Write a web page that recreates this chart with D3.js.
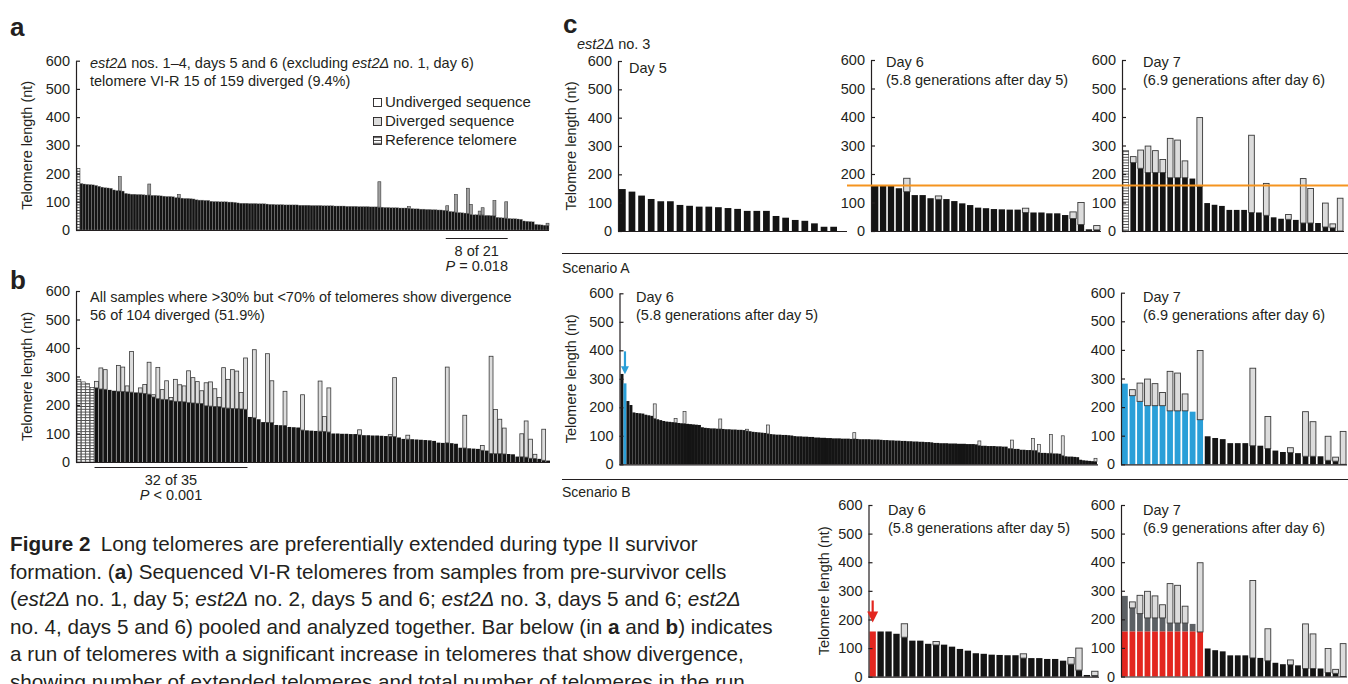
<!DOCTYPE html>
<html>
<head>
<meta charset="utf-8">
<script src="https://cdn.jsdelivr.net/npm/d3@7/dist/d3.min.js"></script>
<style>
  body { margin: 0; background: #fff; }
  svg { display: block; font-family: "Liberation Sans", Arial, Helvetica, sans-serif; }
</style>
</head>
<body>
<svg id="fig" width="1348" height="684"></svg>
<script>
// ---------- data ----------
const yTicks = [0, 100, 200, 300, 400, 500, 600];

// panel a: first bar is the reference telomere, then 159 telomeres (undiverged length, nt)
const aRef = [218];
const aLen = [165, 163, 162, 161, 160, 158, 155, 152, 150, 149, 148, 142, 140, 139, 138,
  130, 128, 127, 127, 126, 126, 125, 124, 124, 123, 123, 122, 121, 120, 119, 119, 118,
  115, 114, 113, 112, 112, 111, 110, 107, 106, 106, 105, 105, 102, 101, 101, 100, 100, 100, 99, 99, 98,
  96, 95, 95, 95, 94, 94, 94, 93, 93, 93, 92, 91, 91, 90, 90, 90, 89, 89, 89,
  89, 89, 88, 88, 88, 88, 87, 87, 87, 87, 86, 86, 86, 86, 85, 85, 85, 85, 84, 84, 84, 84,
  83, 83, 83, 83, 82, 82, 82, 81, 81, 80, 80, 79, 79, 79, 78, 78, 78, 77,
  76, 75, 75, 74, 74, 73, 73, 72, 72, 71, 71, 70, 68, 66, 65, 63, 62, 61, 60, 59,
  55, 54, 54, 53, 53, 52, 52, 51, 50, 45, 44, 43, 42, 41, 40, 40, 39, 38,
  32, 31, 30, 29, 20, 19, 18, 17, 16];
// [bar index, total length] of telomeres with a diverged distal part
const aDiv = [[14, 189], [24, 163], [34, 126], [102, 171], [112, 83], [125, 86], [128, 126],
  [132, 148], [133, 91], [136, 67], [137, 79], [141, 104], [145, 100], [159, 24]];
const aRun = [125, 145];

// panel b: 4 reference telomeres, then 104 telomeres
const bRef = [289, 281, 275, 262];
const bLen = [260, 256, 255, 253, 250, 248, 247, 246, 245, 244, 242, 240, 238,
  228, 222, 220, 219, 216, 213, 212, 211, 208, 207, 206, 205, 197, 196, 195, 194,
  190, 189, 188, 187, 186, 185, 158, 155, 150, 140, 139, 138, 130, 129, 128, 123, 122, 121,
  112, 111, 110, 109, 108, 107, 105, 100, 100, 99, 99, 98, 98,
  95, 94, 94, 93, 93, 92, 91, 90, 89, 86, 81, 80, 80, 79, 78, 77, 76, 74,
  68, 67, 67, 66, 64, 50, 49, 48, 47, 46, 41, 40, 30, 29, 29, 28, 28, 27,
  19, 18, 17, 13, 12, 11, 6, 5];
const bDiv = [[4, 283], [5, 330], [6, 324], [9, 339], [10, 333], [11, 267], [12, 388],
  [14, 260], [15, 272], [16, 350], [17, 236], [18, 332], [19, 254], [20, 285], [21, 226],
  [22, 290], [23, 271], [24, 267], [25, 320], [26, 296], [27, 282], [28, 250], [29, 278],
  [30, 281], [31, 257], [32, 226], [33, 331], [34, 290], [35, 324], [36, 319], [37, 244],
  [38, 365], [40, 394], [43, 380], [44, 285], [47, 248], [51, 236], [55, 284], [56, 160],
  [57, 260], [64, 113], [71, 96], [72, 296], [75, 94], [84, 333], [88, 164], [92, 58],
  [94, 371], [95, 184], [96, 150], [97, 119], [101, 99], [102, 144], [103, 80], [104, 27], [106, 115]];
const bRun = [4, 38];

// panel c: est2Δ no. 3
const day5Len = [148, 139, 125, 113, 105, 105, 92, 89, 86, 86, 84, 81, 78, 71, 71, 71, 53, 47, 39, 36, 27, 15, 15];
const day6Len = [158, 158, 158, 150, 138, 126, 126, 115, 111, 112, 105, 97, 91, 82, 80, 77, 76, 75, 75,
  65, 65, 65, 62, 62, 56, 44, 23, 6, 4];
const day6Div = [[4, 185], [8, 123], [19, 80], [25, 67], [26, 100], [28, 19]];
const day7Ref = [282];
const day7Len = [240, 220, 205, 205, 205, 187, 187, 187, 184, 156, 98, 92, 88, 74, 74, 74, 65, 65,
  55, 48, 43, 41, 39, 28, 28, 28, 14, 11, 0];
const day7Div = [[1, 261], [2, 284], [3, 298], [4, 282], [5, 251], [6, 325], [7, 319], [8, 246],
  [10, 398], [17, 336], [19, 167], [22, 58], [24, 184], [25, 149], [27, 98], [28, 25], [29, 115]];
const day6Cut = 160;
const day7Traced = [0, 1, 2, 3, 4, 5, 6, 7, 8, 9, 10];

// scenario A, day 6: whole population
const sA6Len = [317, 284, 222, 208, 182, 180, 179, 178, 174, 172, 170, 160, 158,
  155, 152, 150, 149, 148, 146, 145, 144, 143, 142, 141, 140, 139, 138,
  130, 128, 127, 126, 126, 125, 124, 124, 123, 123, 122, 122, 121, 121, 120,
  117, 116, 114, 113, 112, 111, 110, 107, 106, 105, 104, 104, 103, 103, 102, 101,
  99, 98, 98, 97, 97, 96, 96, 94, 94, 93, 93, 92, 92, 91, 91, 91, 90, 90, 90, 89, 89, 89, 88,
  88, 88, 88, 87, 87, 87, 86, 85, 85, 84, 84, 83, 83, 82, 82, 81, 81, 80, 80, 79, 79, 78, 78, 77,
  75, 75, 74, 74, 74, 73, 73, 73, 72, 72, 72, 71, 71, 71, 70,
  66, 65, 65, 64, 64, 64, 63, 63, 62, 62, 56, 55, 54, 54, 51, 51, 50, 50, 49, 49,
  41, 40, 40, 39, 39, 38, 38, 37, 30, 28, 27, 27, 26, 25, 16, 14, 13, 12, 11, 10];
const sA6Div = [[11, 212], [18, 161], [21, 185], [33, 159], [42, 123], [49, 138], [78, 111],
  [120, 82], [131, 85], [138, 91], [140, 70], [144, 105], [148, 100], [159, 21]];
const sA6Traced = [1];

const caption = [
  [['Figure 2', 'b'], ['\u2002Long telomeres are preferentially extended during type II survivor']],
  [['formation. ('], ['a', 'b'], [') Sequenced VI-R telomeres from samples from pre-survivor cells']],
  [['('], ['est2\u0394', 'i'], [' no. 1, day 5; '], ['est2\u0394', 'i'], [' no. 2, days 5 and 6; '],
    ['est2\u0394', 'i'], [' no. 3, days 5 and 6; '], ['est2\u0394', 'i']],
  [['no. 4, days 5 and 6) pooled and analyzed together. Bar below (in '], ['a', 'b'], [' and '],
    ['b', 'b'], [') indicates']],
  [['a run of telomeres with a significant increase in telomeres that show divergence,']],
  [['showing number of extended telomeres and total number of telomeres in the run']]
];

// ---------- drawing ----------
const ink = '#231f20';
const pale = '#dcdcdc';
const blue = '#2a9fd8';
const red = '#e3261f';
const slate = '#5c6064';
const orange = '#f5941f';

const svg = d3.select('#fig');
const defs = svg.append('defs');
const hatch = defs.append('pattern')
  .attr('id', 'hatch').attr('patternUnits', 'userSpaceOnUse')
  .attr('width', 8).attr('height', 2.8);
hatch.append('rect').attr('width', 8).attr('height', 2.8).attr('fill', '#fff');
hatch.append('rect').attr('width', 8).attr('height', 0.9).attr('fill', '#444');

function rows(refs, lens, divs) {
  const r = refs.map(v => ({ len: v, ref: true })).concat(lens.map(v => ({ len: v })));
  divs.forEach(([i, t]) => { r[i].top = t; });
  return r;
}

function txt(x, y, parts, size, anchor) {
  const t = svg.append('text').attr('x', x).attr('y', y)
    .attr('font-size', size).attr('fill', ink).attr('text-anchor', anchor || 'start');
  parts.forEach(([s, st]) => {
    t.append('tspan').text(s)
      .attr('font-weight', st === 'b' ? 'bold' : null)
      .attr('font-style', st === 'i' ? 'italic' : null);
  });
  return t;
}

function panel(c) {
  const y = d3.scaleLinear().domain([0, 600]).range([c.yBot, c.yTop]);
  const x = d3.scaleBand().domain(d3.range(c.data.length))
    .range([c.x0 + 1, c.barEnd]).paddingInner(c.pad).paddingOuter(0);

  const segs = [];
  c.data.forEach((d, i) => {
    let fill = d.ref ? 'url(#hatch)' : '#141414';
    if (c.mark && c.mark.idx.includes(i)) fill = c.mark.color;
    if (c.split && c.split.idx.includes(i)) {
      const lo = Math.min(d.len, c.split.level);
      segs.push({ i, lo: 0, hi: lo, fill: red });
      if (d.len > lo) segs.push({ i, lo, hi: d.len, fill: slate });
    } else if (d.len > 0) {
      const refLine = d.ref && fill === 'url(#hatch)';
      segs.push({ i, lo: 0, hi: d.len, fill,
        stroke: refLine ? '#333' : c.sep, sw: refLine ? 0.6 : c.sepW });
    }
    if (d.top) segs.push({ i, lo: d.len, hi: d.top, fill: c.topFill || pale, stroke: '#383838', sw: c.topW });
  });

  svg.append('g').selectAll('rect').data(segs).join('rect')
    .attr('x', d => x(d.i)).attr('width', x.bandwidth())
    .attr('y', d => y(d.hi)).attr('height', d => y(d.lo) - y(d.hi))
    .attr('fill', d => d.fill)
    .attr('stroke', d => d.stroke || 'none')
    .attr('stroke-width', d => d.sw || 0);

  const ax = svg.append('g')
    .attr('transform', `translate(${c.x0},0)`)
    .call(d3.axisLeft(y).tickValues(yTicks).tickSizeInner(-4).tickSizeOuter(0).tickPadding(6));
  ax.attr('font-family', null).attr('font-size', 14.5);
  ax.selectAll('text').attr('fill', ink);
  ax.selectAll('line,path').attr('stroke', ink).attr('stroke-width', 1.2);

  svg.append('line')
    .attr('x1', c.x0).attr('x2', c.xEnd).attr('y1', c.yBot + 0.5).attr('y2', c.yBot + 0.5)
    .attr('stroke', ink).attr('stroke-width', 1.2);

  if (c.title) {
    svg.append('text').attr('transform', `translate(${c.titleX},${(c.yTop + c.yBot) / 2}) rotate(-90)`)
      .attr('text-anchor', 'middle').attr('font-size', 14.5).attr('fill', ink)
      .text('Telomere length (nt)');
  }
  return { x, y };
}

function runBar(p, run, yLine, label, rel, pval) {
  const x1 = p.x(run[0]), x2 = p.x(run[1]) + p.x.bandwidth();
  svg.append('line').attr('x1', x1).attr('x2', x2).attr('y1', yLine).attr('y2', yLine)
    .attr('stroke', ink).attr('stroke-width', 1.2);
  txt((x1 + x2) / 2, yLine + 17, [[label]], 14.5, 'middle');
  txt((x1 + x2) / 2, yLine + 32, [['P', 'i'], [` ${rel} ${pval}`]], 14.5, 'middle');
}

function arrow(xc, yTip, len, head, color) {
  svg.append('line').attr('x1', xc).attr('x2', xc).attr('y1', yTip - len).attr('y2', yTip - head * 0.8)
    .attr('stroke', color).attr('stroke-width', 2.2);
  svg.append('path')
    .attr('d', `M${xc - head / 2},${yTip - head} L${xc + head / 2},${yTip - head} L${xc},${yTip} Z`)
    .attr('fill', color);
}

const dayLabels = ['Day 6', '(5.8 generations after day 5)', 'Day 7', '(6.9 generations after day 6)'];

// ----- a -----
const pa = panel({ x0: 76, yTop: 60.7, yBot: 230, xEnd: 549, barEnd: 549, pad: 0,
  data: rows(aRef, aLen, aDiv), sep: '#8c8c8c', sepW: 0.35, topW: 0.6, topFill: '#a0a0a0',
  title: true, titleX: 32 });
txt(10, 36, [['a', 'b']], 26);
txt(90, 68, [['est2\u0394', 'i'], [' nos. 1\u20134, days 5 and 6 (excluding '], ['est2\u0394', 'i'], [' no. 1, day 6)']], 14.5);
txt(90, 86, [['telomere VI-R 15 of 159 diverged (9.4%)']], 14.5);
const legend = [['Undiverged sequence', '#fff'], ['Diverged sequence', pale], ['Reference telomere', 'url(#hatch)']];
legend.forEach(([name, fill], i) => {
  svg.append('rect').attr('x', 373.5).attr('y', 98.5 + i * 19).attr('width', 8).attr('height', 8)
    .attr('fill', fill).attr('stroke', ink).attr('stroke-width', 0.9);
  txt(385, 107 + i * 19, [[name]], 15);
});
runBar(pa, aRun, 238.5, '8 of 21', '=', '0.018');

// ----- b -----
const pb = panel({ x0: 76, yTop: 291, yBot: 462, xEnd: 550, barEnd: 550, pad: 0.12,
  data: rows(bRef, bLen, bDiv), sep: 'none', sepW: 0, topW: 0.8, title: true, titleX: 32 });
txt(10, 289, [['b', 'b']], 26);
txt(90, 302, [['All samples where >30% but <70% of telomeres show divergence']], 14.5);
txt(90, 320, [['56 of 104 diverged (51.9%)']], 14.5);
runBar(pb, bRun, 467.5, '32 of 35', '<', '0.001');

// ----- c, top row -----
txt(563, 33, [['c', 'b']], 26);
txt(577, 49, [['est2\u0394', 'i'], [' no. 3']], 14.5);
panel({ x0: 618, yTop: 61, yBot: 231, xEnd: 847, barEnd: 837, pad: 0.3,
  data: rows([], day5Len, []), title: true, titleX: 576 });
txt(629, 73, [['Day 5']], 14.5);

const c6 = panel({ x0: 871, yTop: 60, yBot: 231, xEnd: 1101, barEnd: 1100, pad: 0.2,
  data: rows([], day6Len, day6Div), topW: 0.9 });
txt(886, 67, [[dayLabels[0]]], 14.5);
txt(886, 85, [[dayLabels[1]]], 14.5);

panel({ x0: 1122, yTop: 60, yBot: 231, xEnd: 1344, barEnd: 1343, pad: 0.23,
  data: rows(day7Ref, day7Len, day7Div), topW: 0.9 });
txt(1143, 67, [[dayLabels[2]]], 14.5);
txt(1143, 85, [[dayLabels[3]]], 14.5);

svg.append('line').attr('x1', 847).attr('x2', 1348)
  .attr('y1', c6.y(day6Cut)).attr('y2', c6.y(day6Cut))
  .attr('stroke', orange).attr('stroke-width', 2);

svg.append('line').attr('x1', 562).attr('x2', 1348).attr('y1', 253.5).attr('y2', 253.5)
  .attr('stroke', ink).attr('stroke-width', 1);
txt(562, 273, [['Scenario A']], 14);

// ----- scenario A -----
const sa6 = panel({ x0: 619.5, yTop: 293.3, yBot: 464.3, xEnd: 1098, barEnd: 1097, pad: 0,
  data: rows([], sA6Len, sA6Div), topW: 0.7, mark: { idx: sA6Traced, color: blue },
  title: true, titleX: 576 });
txt(636, 302, [[dayLabels[0]]], 14.5);
txt(636, 320, [[dayLabels[1]]], 14.5);
arrow(sa6.x(sA6Traced[0]) + sa6.x.bandwidth() / 2, sa6.y(sA6Len[sA6Traced[0]]) - 9, 23, 8, blue);

panel({ x0: 1121, yTop: 292.7, yBot: 464.3, xEnd: 1347, barEnd: 1346, pad: 0.23,
  data: rows(day7Ref, day7Len, day7Div), topW: 0.9, mark: { idx: day7Traced, color: blue } });
txt(1143, 302, [[dayLabels[2]]], 14.5);
txt(1143, 320, [[dayLabels[3]]], 14.5);

svg.append('line').attr('x1', 562).attr('x2', 1348).attr('y1', 479.5).attr('y2', 479.5)
  .attr('stroke', ink).attr('stroke-width', 1.2);
txt(562, 497, [['Scenario B']], 14);

// ----- scenario B -----
const sb6 = panel({ x0: 868.5, yTop: 505, yBot: 676.7, xEnd: 1099, barEnd: 1098, pad: 0.2,
  data: rows([], day6Len, day6Div), topW: 0.9, mark: { idx: [0], color: red },
  title: true, titleX: 829 });
txt(888, 515, [[dayLabels[0]]], 14.5);
txt(888, 533, [[dayLabels[1]]], 14.5);
arrow(sb6.x(0) + sb6.x.bandwidth() / 2, sb6.y(day6Len[0]) - 9, 22, 11, red);

panel({ x0: 1121, yTop: 505, yBot: 676.5, xEnd: 1347, barEnd: 1346, pad: 0.23,
  data: rows(day7Ref, day7Len, day7Div), topW: 0.9,
  split: { idx: day7Traced, level: day6Len[0] } });
txt(1143, 515, [[dayLabels[2]]], 14.5);
txt(1143, 533, [[dayLabels[3]]], 14.5);

// ----- figure legend (caption) -----
caption.forEach((line, i) => txt(10, 551 + i * 27.5, line, 20.7));
</script>
</body>
</html>
